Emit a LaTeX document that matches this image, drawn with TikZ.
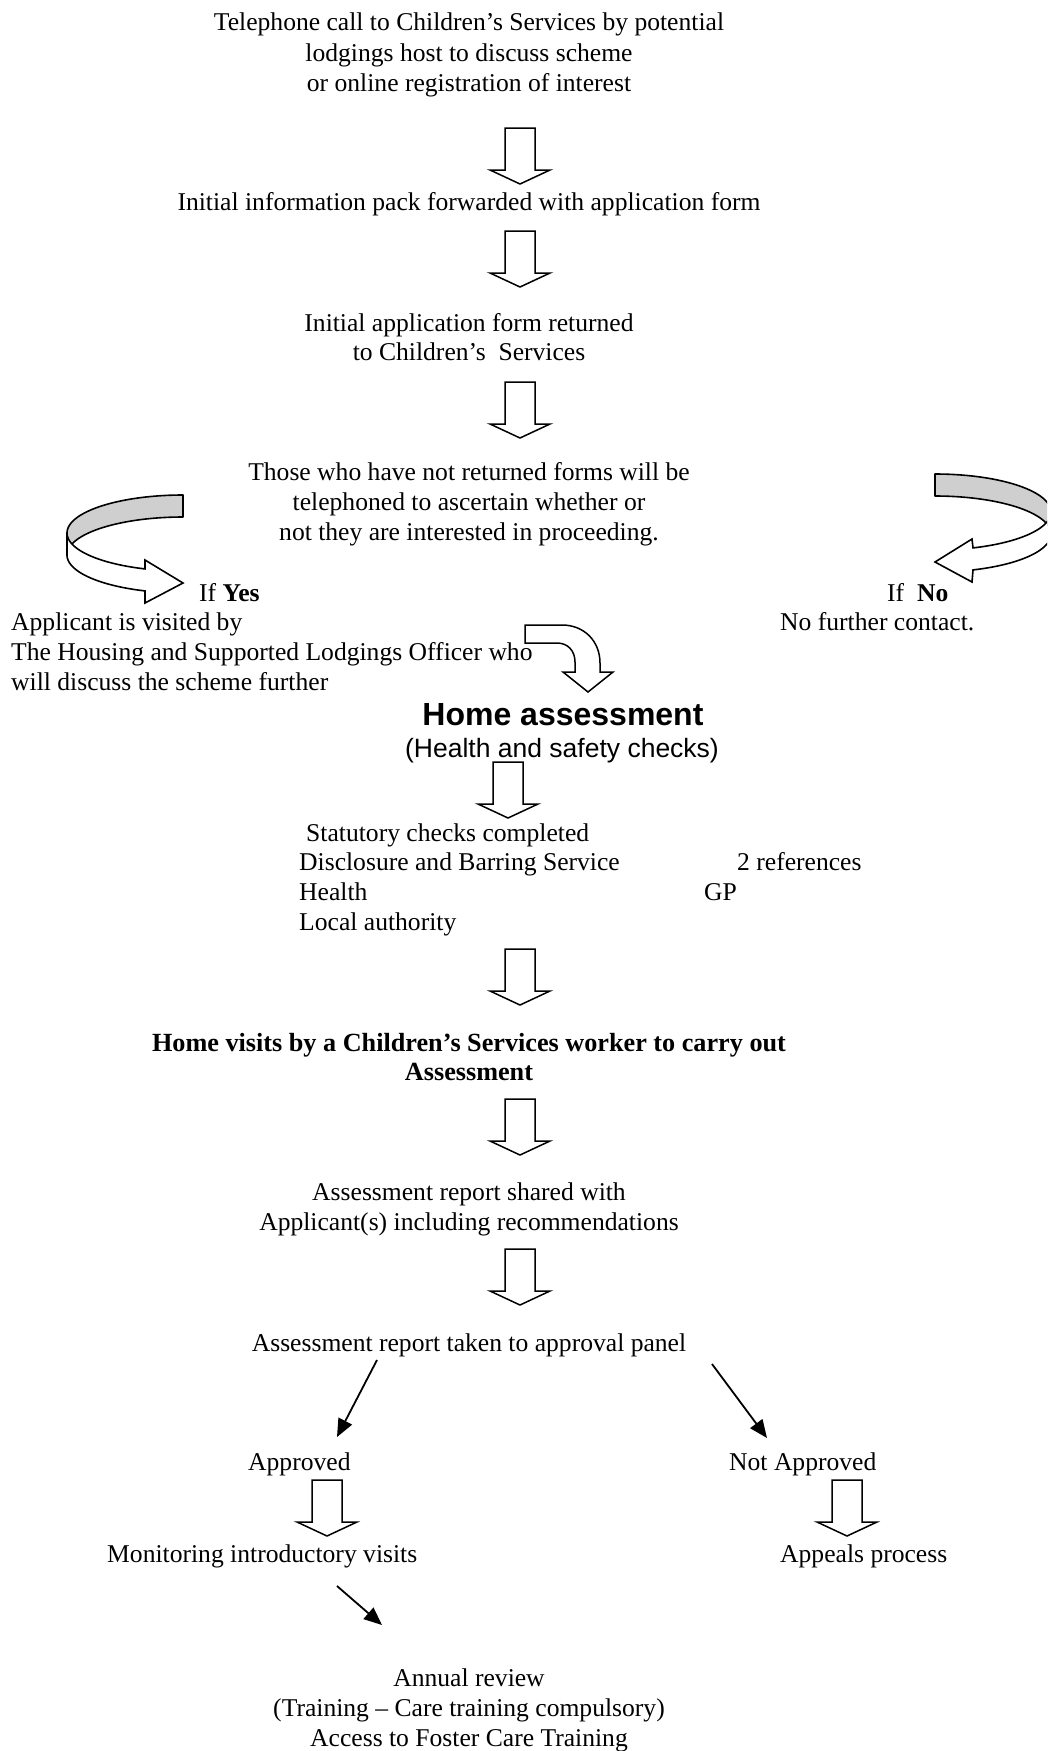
\documentclass[tikz,border=0pt]{standalone}
\usepackage{fontspec}
\setmainfont{Liberation Serif}
\newfontfamily\arialfont{Liberation Sans}
\usetikzlibrary{arrows.meta}
\tikzset{
  txt/.style={inner sep=0pt, anchor=base, font=\fontsize{25.6}{30}\selectfont},
  txtl/.style={txt, anchor=base west},
  boldtxt/.style={inner sep=0pt, anchor=base, font=\bfseries\fontsize{26.2}{30}\selectfont},
  sanstxt/.style={inner sep=0pt, anchor=base, font=\arialfont\fontsize{26.5}{30}\selectfont},
  sansbold/.style={inner sep=0pt, anchor=base, font=\arialfont\bfseries\fontsize{32}{36}\selectfont},
  blockarrow/.style={draw=black, line width=1.5pt, fill=white, line join=miter},
  ribbonback/.style={draw=black, line width=1.6pt, fill=black!19, line join=round},
  ribbonfront/.style={draw=black, line width=1.6pt, fill=white, line join=miter},
  linearrow/.style={draw=black, line width=1.8pt, -{Triangle[length=18pt,width=15pt]}},
  pics/blockdown/.style={code={
    \draw[blockarrow] (-15,0) -- (15,0) -- (15,42) -- (30,42) -- (0,56) -- (-30,42) -- (-15,42) -- cycle;
  }}
}
\begin{document}
\begin{tikzpicture}[x=1pt,y=-1pt]
\clip (0,0) rectangle (1047,1751);
\fill[white] (0,0) rectangle (1047,1751);

% ---- text blocks ----
\node[txt] (t1a) at (469,30.5) {Telephone call to Children’s Services by potential};
\node[txt] (t1b) at (469,61) {lodgings host to discuss scheme};
\node[txt] (t1c) at (469,91.5) {or online registration of interest};

\node[txt] (t2) at (469,210.5) {Initial information pack forwarded with application form};

\node[txt] (t3a) at (469,331.5) {Initial application form returned};
\node[txt] (t3b) at (469,360.5) {to Children’s\ \ Services};

\node[txt] (t4a) at (469,480.5) {Those who have not returned forms will be};
\node[txt] (t4b) at (469,510.5) {telephoned to ascertain whether or};
\node[txt] (t4c) at (469,540.5) {not they are interested in proceeding.};

\node[txtl] (yes) at (199,601.5) {If \textbf{Yes}};
\node[txtl] (no) at (887,601.5) {If\ \ \textbf{No}};

\node[txtl] (ap1) at (11,630.5) {Applicant is visited by};
\node[txtl] (ap2) at (11,660.5) {The Housing and Supported Lodgings Officer who};
\node[txtl] (ap3) at (11,690.5) {will discuss the scheme further};

\node[txtl] (nfc) at (780,630.5) {No further contact.};

\node[sansbold] (home) at (563,725.5) {Home assessment};
\node[sanstxt] (hs) at (562,757) {(Health and safety checks)};

\node[txtl] (st0) at (306,841.5) {Statutory checks completed};
\node[txtl] (st1) at (299,870.5) {Disclosure and Barring Service};
\node[txtl] (st2) at (299,900.5) {Health};
\node[txtl] (st3) at (299,930.5) {Local authority};
\node[txtl] (ref) at (737,870.5) {2 references};
\node[txtl] (gp) at (704,900.5) {GP};

\node[boldtxt] (hv1) at (469,1051.5) {Home visits by a Children’s Services worker to carry out};
\node[boldtxt] (hv2) at (469,1080.5) {Assessment};

\node[txt] (ar1) at (469,1200.5) {Assessment report shared with};
\node[txt] (ar2) at (469,1230.5) {Applicant(s) including recommendations};

\node[txt] (panel) at (469,1351.5) {Assessment report taken to approval panel};

\node[txtl] (appr) at (248,1470.5) {Approved};
\node[txtl] (notappr) at (729,1470.5) {Not Approved};

\node[txtl] (mon) at (107,1562.5) {Monitoring introductory visits};
\node[txtl] (appeal) at (780,1562.5) {Appeals process};

\node[txt] (an1) at (469,1686.5) {Annual review};
\node[txt] (an2) at (469,1716) {(Training – Care training compulsory)};
\node[txt] (an3) at (469,1746.5) {Access to Foster Care Training};

% ---- block arrows ----
\pic at (520,128) {blockdown};
\pic at (520,231) {blockdown};
\pic at (520,382) {blockdown};
\pic at (508,762) {blockdown};
\pic at (520,949) {blockdown};
\pic at (520,1099) {blockdown};
\pic at (520,1249) {blockdown};
\pic at (327,1480) {blockdown};
\pic at (847,1480) {blockdown};

% ---- bent arrow to Home assessment ----
\draw[blockarrow, fill=none]
  (525,625) -- (562,625) .. controls (584,625) and (600,641) .. (600,663)
  -- (600,672) -- (613,672) -- (588,692) -- (563,672) -- (575,672) -- (575,662)
  .. controls (575,651) and (568,643) .. (557,643) -- (525,643) -- cycle;

% ---- left curved arrow (If Yes) ----
\draw[ribbonback]
  plot[domain=90:180, samples=40] ({183+116*cos(\x)}, {533-38*sin(\x)})
  -- plot[domain=180:90, samples=40] ({183+116*cos(\x)}, {555-38*sin(\x)}) -- cycle;
\draw[ribbonfront]
  plot[domain=180:250.87, samples=40] ({183+116*cos(\x)}, {533-38*sin(\x)})
  -- (145,560) -- (183,583) -- (145,603)
  -- plot[domain=250.87:180, samples=40] ({183+116*cos(\x)}, {555-38*sin(\x)}) -- cycle;

% ---- right curved arrow (If No) ----
\draw[ribbonback]
  plot[domain=90:180, samples=40] ({935-116*cos(\x)}, {512-38*sin(\x)})
  -- plot[domain=180:90, samples=40] ({935-116*cos(\x)}, {534-38*sin(\x)}) -- cycle;
\draw[ribbonfront]
  plot[domain=180:250.87, samples=40] ({935-116*cos(\x)}, {512-38*sin(\x)})
  -- (972,539) -- (935,562) -- (972,582)
  -- plot[domain=250.87:180, samples=40] ({935-116*cos(\x)}, {534-38*sin(\x)}) -- cycle;

% ---- line arrows ----
\coordinate (pl) at (377,1360);
\coordinate (pla) at (337,1437);
\coordinate (pr) at (712,1364);
\coordinate (pra) at (767,1438);
\coordinate (ms) at (337,1586);
\coordinate (me) at (382,1625);
\draw[linearrow] (pl) -- (pla);
\draw[linearrow] (pr) -- (pra);
\draw[linearrow] (ms) -- (me);
\end{tikzpicture}
\end{document}
